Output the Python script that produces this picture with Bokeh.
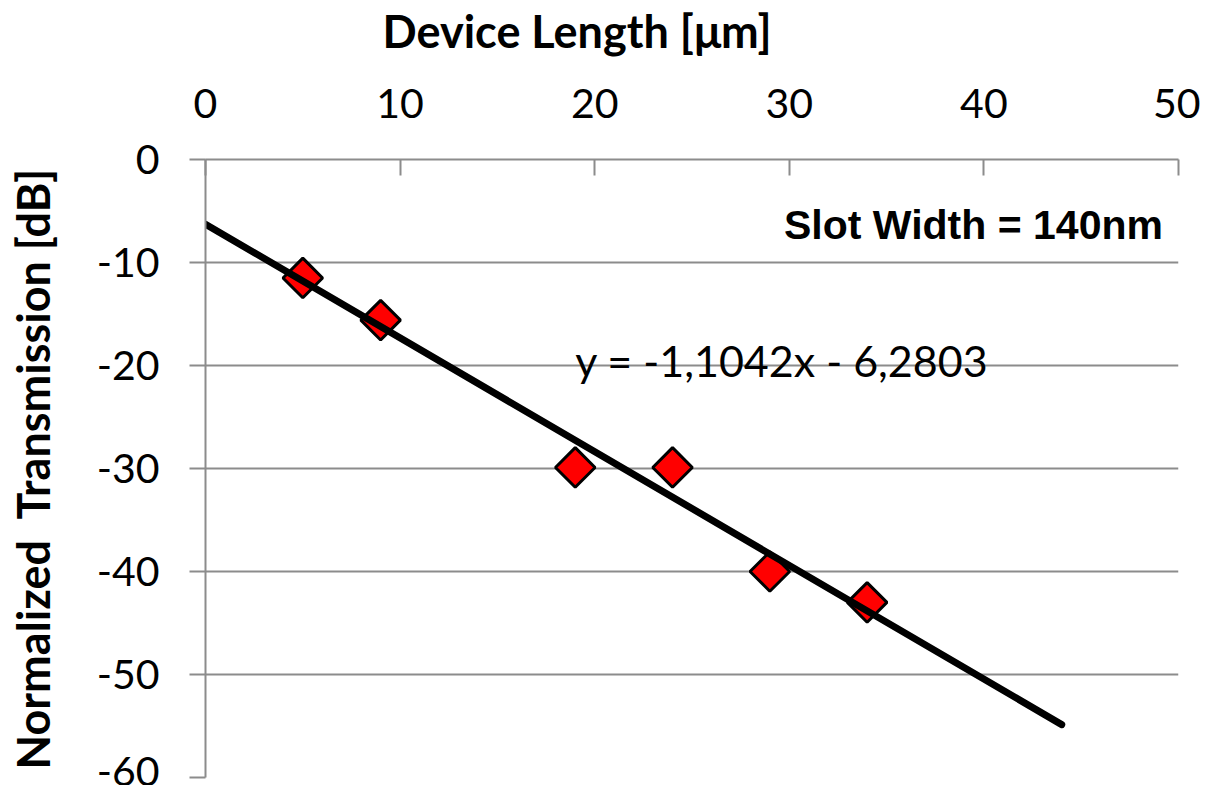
import numpy as np
from bokeh.plotting import figure
from bokeh.models import FixedTicker, ColumnDataSource
from bokeh.core.properties import value
from bokeh.embed import file_html
from bokeh.resources import INLINE

# data
device_length = [5, 9, 19, 24, 29, 34]
transmission = [-11.5, -15.6, -29.9, -29.9, -40.0, -43.0]

fit_slope = -1.1042
fit_intercept = -6.2803
fit_x = [0, 44]
fit_y = [fit_slope * x + fit_intercept for x in fit_x]

x_ticks = [0, 10, 20, 30, 40, 50]
y_ticks = [-60, -50, -40, -30, -20, -10, 0]
y_tick_labels = ["-60", "-50", "-40", "-30", "-20", "-10", "0"]

x_title = "Device Length [μm]"
y_title = "Normalized\u00a0 Transmission [dB]"
eq_text = ["y = -1,1042x - 6,2803"]
slot_text = ["Slot Width = 140nm"]

GRAY = "#8c8c8c"

p = figure(width=1200, height=785, output_backend="svg", toolbar_location=None,
           x_range=(0, 50), y_range=(-60, 0), x_axis_location="above",
           min_border_left=205, min_border_right=22, min_border_top=158,
           min_border_bottom=8)
p.outline_line_color = None
p.background_fill_color = "white"
p.border_fill_color = "white"

p.xgrid.visible = False
p.ygrid.grid_line_color = GRAY
p.ygrid.grid_line_width = 2
p.ygrid.ticker = FixedTicker(ticks=y_ticks)

p.xaxis.ticker = FixedTicker(ticks=x_ticks)
p.yaxis.ticker = FixedTicker(ticks=y_ticks)
p.yaxis.major_label_overrides = {t: s for t, s in zip(y_ticks, y_tick_labels)}

for ax in (p.xaxis[0], p.yaxis[0]):
    ax.axis_line_color = GRAY
    ax.axis_line_width = 2
    ax.major_tick_line_color = GRAY
    ax.major_tick_line_width = 2
    ax.minor_tick_line_color = None
    ax.major_label_text_font = "Lato"
    ax.major_label_text_font_size = "41px"
    ax.major_label_text_color = "black"
    ax.axis_label_text_font = "Lato"
    ax.axis_label_text_font_style = "bold"
    ax.axis_label_text_color = "black"

# x-axis title sits left of the axis centre in the original: pad its right side
p.xaxis.axis_label = x_title + "\u00a0" * 21
p.xaxis.axis_label_text_font_size = "45px"
p.xaxis.major_tick_in = 16
p.xaxis.major_tick_out = 0
p.xaxis.major_label_standoff = 42
p.xaxis.axis_label_standoff = 28

p.yaxis.axis_label = y_title
p.yaxis.axis_label_text_font_size = "45px"
p.yaxis.major_tick_in = 0
p.yaxis.major_tick_out = 16
p.yaxis.major_label_standoff = 30
p.yaxis.axis_label_standoff = 34

src = ColumnDataSource(dict(x=device_length, y=transmission))
p.scatter("x", "y", source=src, marker="square", angle=np.pi / 4, size=28,
          fill_color="#ff0000", line_color="black", line_width=3)

p.line(fit_x, fit_y, line_color="black", line_width=7, line_cap="round")

p.text(x=[19.0], y=[-19.5], text=eq_text, text_font=value("Lato"),
       text_font_size="43px", text_color="black", text_baseline="alphabetic",
       text_align="left")
p.text(x=[49.2], y=[-6.4], text=slot_text, text_font=value("Liberation Sans"),
       text_font_style="bold", text_font_size="41px", text_color="black",
       text_baseline="alphabetic", text_align="right")

open("out.html", "w").write(file_html(p, INLINE))
